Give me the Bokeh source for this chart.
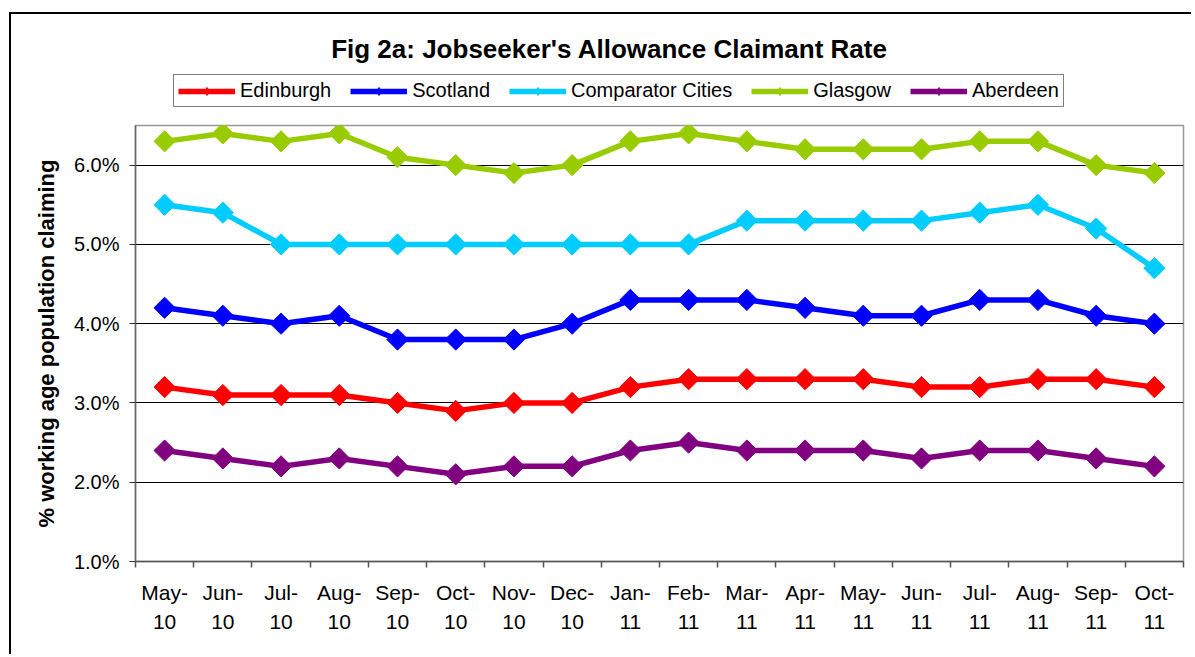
from bokeh.plotting import figure
from bokeh.layouts import column
from bokeh.models import (FactorRange, Range1d, LinearAxis, FixedTicker,
                          PrintfTickFormatter, Legend, LegendItem, Label)
from bokeh.embed import file_html
from bokeh.resources import INLINE
import math

months = ["May-10", "Jun-10", "Jul-10", "Aug-10", "Sep-10", "Oct-10", "Nov-10", "Dec-10",
          "Jan-11", "Feb-11", "Mar-11", "Apr-11", "May-11", "Jun-11", "Jul-11", "Aug-11",
          "Sep-11", "Oct-11"]

edinburgh = [3.2, 3.1, 3.1, 3.1, 3.0, 2.9, 3.0, 3.0, 3.2, 3.3, 3.3, 3.3, 3.3, 3.2, 3.2, 3.3, 3.3, 3.2]
scotland = [4.2, 4.1, 4.0, 4.1, 3.8, 3.8, 3.8, 4.0, 4.3, 4.3, 4.3, 4.2, 4.1, 4.1, 4.3, 4.3, 4.1, 4.0]
comparator = [5.5, 5.4, 5.0, 5.0, 5.0, 5.0, 5.0, 5.0, 5.0, 5.0, 5.3, 5.3, 5.3, 5.3, 5.4, 5.5, 5.2, 4.7]
glasgow = [6.3, 6.4, 6.3, 6.4, 6.1, 6.0, 5.9, 6.0, 6.3, 6.4, 6.3, 6.2, 6.2, 6.2, 6.3, 6.3, 6.0, 5.9]
aberdeen = [2.4, 2.3, 2.2, 2.3, 2.2, 2.1, 2.2, 2.2, 2.4, 2.5, 2.4, 2.4, 2.4, 2.3, 2.4, 2.4, 2.3, 2.2]

series_names = ["Edinburgh", "Scotland", "Comparator Cities", "Glasgow", "Aberdeen"]
series_values = [edinburgh, scotland, comparator, glasgow, aberdeen]
series_colors = ["#FF0000", "#0000FF", "#00CCFF", "#99CC00", "#800080"]

y_ticks = [1, 2, 3, 4, 5, 6]
title_text = "Fig 2a: Jobseeker's Allowance Claimant Rate"
y_title = "% working age population claiming"

FONT = "Liberation Sans"
W = 1180
LINE_W = 5.5
MARK = 15

# ---------- header figure: title + legend (its series sit outside its visible range) ----------
top = figure(width=W, height=100, x_range=FactorRange(*months), y_range=Range1d(100, 101),
             x_axis_location=None, y_axis_location=None, output_backend="svg",
             toolbar_location=None, min_border=0)
top.title.visible = False
top.outline_line_color = None
top.xgrid.visible = False
top.ygrid.visible = False

items = []
for name, vals, col in zip(series_names, series_values, series_colors):
    r1 = top.line(months, vals, line_color=col, line_width=LINE_W)
    r2 = top.scatter(months, vals, marker="diamond", size=16,
                     fill_color=col, line_color=col)
    items.append(LegendItem(label=name, renderers=[r1, r2]))

legend = Legend(items=items, orientation="horizontal", location=(38, 7))
legend.border_line_color = "#000000"
legend.border_line_width = 1
legend.padding = 4
legend.margin = 0
legend.spacing = 19
legend.glyph_width = 57
legend.glyph_height = 20
legend.label_standoff = 5
legend.label_text_font = FONT
legend.label_text_font_size = "20px"
legend.label_text_color = "#000000"
legend.background_fill_color = "#FFFFFF"
legend.background_fill_alpha = 1.0
top.add_layout(legend, "center")

title = Label(x=474, y=66, x_units="screen", y_units="screen", text=title_text,
              text_font=FONT, text_font_size="26px", text_font_style="bold",
              text_align="center", text_baseline="middle", text_color="#000000")
top.add_layout(title)

# ---------- main chart ----------
p = figure(width=W, height=540, x_range=FactorRange(*months), y_range=Range1d(1.0, 6.5),
           x_axis_location=None, output_backend="svg", toolbar_location=None,
           min_border_left=124, min_border_top=11, min_border_right=8, min_border_bottom=93)
p.title.visible = False
p.outline_line_color = "#999999"
p.outline_line_width = 1.5
p.xgrid.visible = False
p.ygrid.grid_line_color = "#000000"
p.ygrid.grid_line_width = 1
p.ygrid.ticker = FixedTicker(ticks=y_ticks)

ya = p.yaxis[0]
ya.ticker = FixedTicker(ticks=y_ticks)
ya.formatter = PrintfTickFormatter(format="%.1f%%")
ya.axis_line_color = "#666666"
ya.axis_line_width = 1.5
ya.major_tick_line_color = "#333333"
ya.major_tick_in = 0
ya.major_tick_out = 6
ya.minor_tick_line_color = None
ya.major_label_text_font = FONT
ya.major_label_text_font_size = "20px"
ya.major_label_text_color = "#000000"
ya.major_label_standoff = 10
ya.axis_label = y_title
ya.axis_label_text_font = FONT
ya.axis_label_text_font_size = "22px"
ya.axis_label_text_font_style = "bold"
ya.axis_label_text_color = "#000000"
ya.axis_label_standoff = 12

n = len(months)
centers = [i + 0.5 for i in range(n)]
xa = LinearAxis(ticker=FixedTicker(ticks=centers, minor_ticks=list(range(n + 1))),
                major_label_overrides={c: m.replace("-", "-\n") for c, m in zip(centers, months)})
xa.axis_line_color = "#555555"
xa.axis_line_width = 1.5
xa.major_tick_line_color = None
xa.major_tick_in = 0
xa.major_tick_out = 0
xa.minor_tick_line_color = "#555555"
xa.minor_tick_line_width = 1.5
xa.minor_tick_in = 0
xa.minor_tick_out = 6
xa.major_label_text_font = FONT
xa.major_label_text_font_size = "21px"
xa.major_label_text_color = "#000000"
xa.major_label_text_line_height = 1.3
xa.major_label_standoff = 13
p.add_layout(xa, "below")

for vals, col in zip(series_values, series_colors):
    p.line(months, vals, line_color=col, line_width=LINE_W)
    p.scatter(months, vals, marker="square", angle=math.pi / 4, size=MARK,
              fill_color=col, line_color=col)

layout = column(top, p, spacing=0,
                styles={"margin-left": "9px", "margin-top": "12px",
                        "border-left": "2px solid #000000", "border-top": "2px solid #000000"})

open("out.html", "w").write(file_html(layout, INLINE))
